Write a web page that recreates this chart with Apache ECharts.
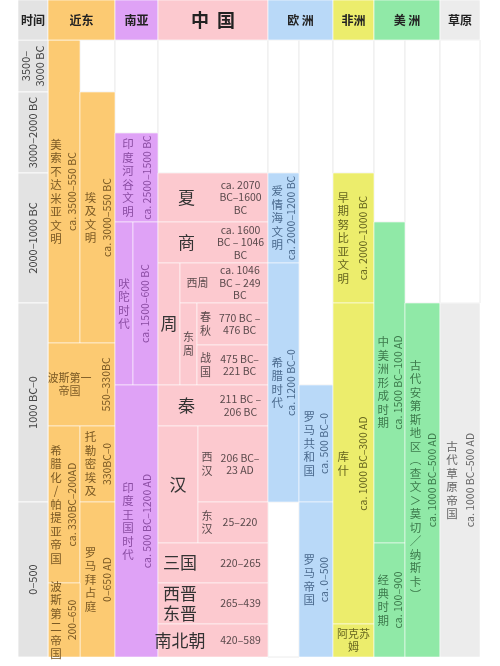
<!DOCTYPE html>
<html>
<head>
<meta charset="utf-8">
<script src="https://cdn.jsdelivr.net/npm/echarts@6/dist/echarts.min.js"></script>
<style>html,body{margin:0;padding:0;background:#fff}#chart{width:500px;height:666px}</style>
</head>
<body>
<div id="chart"></div>
<script>
// 颜色
var colors = {
  t: ['#e3e3e3', '#555'],
  o: ['#fcca72', '#7b5a25'],
  p: ['#dfa2f6', '#8b4da3'],
  c: ['#fcc9cf', '#5a4a4c'],
  b: ['#b9d9f8', '#4b6a8d'],
  y: ['#eced6c', '#676620'],
  g: ['#90e9a7', '#3d7a4c'],
  s: ['#ececec', '#666'],
  w: ['#ffffff', '#333']
};

// 表头 [x0, x1, 文字, 颜色]
var headers = [
  [18, 48, '时间', 't'], [48, 115, '近东', 'o'], [115, 158, '南亚', 'p'],
  [158, 268, '中  国', 'c'], [268, 333, '欧 洲', 'b'], [333, 374, '非洲', 'y'],
  [374, 440, '美 洲', 'g'], [440, 480, '草原', 's']
];
var headerBottom = 40;

// 时间列 [y0, y1, 文字]
var timeRows = [
  [40, 92, '3500–\n3000 BC'], [92, 173, '3000–2000 BC'], [173, 303, '2000–1000 BC'],
  [303, 502, '1000 BC–0'], [502, 657, '0–500']
];

// 单元格 [x0, x1, y0, y1, 颜色, 名称, 年代, 名称位置, 年代位置, 模式]
// 模式 v: 名称竖排+年代旋转; h: 横排
var nearEast = [
  [48, 80, 40, 343, 'o', '美索不达米亚文明', 'ca. 3500–550 BC', .25, .75, 'v'],
  [80, 115, 92, 343, 'o', '埃及文明', 'ca. 3000–550 BC', .3, .78, 'v'],
  [48, 115, 343, 426, 'o', '波斯第一\n帝国', '550–330BC', .32, .86, 'hr'],
  [48, 80, 426, 583, 'o', '希腊化/帕提亚帝国', 'ca. 330BC–200AD', .25, .75, 'v'],
  [80, 115, 426, 502, 'o', '托勒密埃及', '330BC–0', .3, .78, 'v'],
  [80, 115, 502, 657, 'o', '罗马拜占庭', '0–650 AD', .3, .78, 'v'],
  [48, 80, 583, 657, 'o', '波斯第二帝国', '200–650', .25, .75, 'v']
];
var southAsia = [
  [115, 158, 133, 222, 'p', '印度河谷文明', 'ca. 2500–1500 BC', .3, .75, 'v'],
  [115, 133, 222, 385, 'p', '吠陀时代', '', .5, 0, 'v'],
  [133, 158, 222, 385, 'p', '', 'ca. 1500–600 BC', 0, .5, 'v'],
  [115, 158, 385, 657, 'p', '印度王国时代', 'ca. 500 BC–1200 AD', .3, .75, 'v']
];
var china = [
  [158, 268, 173, 222, 'c', '夏', 'ca. 2070\nBC–1600\nBC', .26, .75, 'h'],
  [158, 268, 222, 263, 'c', '商', 'ca. 1600\nBC – 1046\nBC', .26, .75, 'h'],
  [158, 180, 263, 385, 'c', '周', '', .5, 0, 'h'],
  [180, 268, 263, 303, 'c', '西周', 'ca. 1046\nBC – 249\nBC', .2, .68, 'hs'],
  [180, 197, 303, 385, 'c', '东\n周', '', .5, 0, 'hs'],
  [197, 268, 303, 345, 'c', '春\n秋', '770 BC –\n476 BC', .12, .6, 'hs'],
  [197, 268, 345, 385, 'c', '战\n国', '475 BC–\n221 BC', .12, .6, 'hs'],
  [158, 268, 385, 426, 'c', '秦', '211 BC –\n206 BC', .26, .75, 'h'],
  [158, 198, 426, 543, 'c', '汉', '', .5, 0, 'h'],
  [198, 268, 426, 502, 'c', '西\n汉', '206 BC–\n23 AD', .13, .6, 'hs'],
  [198, 268, 502, 543, 'c', '东\n汉', '25–220', .13, .6, 'hs'],
  [158, 268, 543, 583, 'c', '三国', '220–265', .2, .75, 'h'],
  [158, 268, 583, 624, 'c', '西晋\n东晋', '265–439', .2, .75, 'h'],
  [158, 268, 624, 657, 'c', '南北朝', '420–589', .2, .75, 'h']
];
var europe = [
  [268, 299, 173, 263, 'b', '爱情海文明', 'ca. 2000–1200 BC', .3, .75, 'v'],
  [268, 299, 263, 502, 'b', '希腊时代', 'ca. 1200 BC–0', .3, .75, 'v'],
  [299, 333, 385, 502, 'b', '罗马共和国', 'ca. 500 BC–0', .3, .75, 'v'],
  [299, 333, 502, 657, 'b', '罗马帝国', 'ca. 0–500', .3, .75, 'v']
];
var africa = [
  [333, 374, 173, 303, 'y', '早期努比亚文明', 'ca. 2000–1000 BC', .25, .72, 'v'],
  [333, 374, 303, 624, 'y', '库什', 'ca. 1000 BC–300 AD', .25, .72, 'v'],
  [333, 374, 624, 657, 'y', '阿克苏\n姆', '', .5, 0, 'hs']
];
var americas = [
  [374, 405, 222, 543, 'g', '中美洲形成时期', 'ca. 1500 BC–100 AD', .3, .77, 'v'],
  [374, 405, 543, 657, 'g', '经典时期', 'ca. 100–900', .3, .77, 'v'],
  [405, 440, 303, 657, 'g', '古代安第斯地区︵查文＞莫切／纳斯卡︶', 'ca. 1000 BC–500 AD', .3, .78, 'v']
];
var steppe = [
  [440, 480, 303, 657, 's', '古代草原帝国', 'ca. 1000 BC–500 AD', .3, .75, 'v']
];
var blanks = [
  [80, 115, 40, 92], [115, 158, 40, 133], [158, 268, 40, 173], [268, 299, 40, 173],
  [299, 333, 40, 385], [333, 374, 40, 173], [374, 405, 40, 222], [405, 440, 40, 303],
  [440, 480, 40, 303], [268, 299, 502, 657]
];

var cells = [].concat(nearEast, southAsia, china, europe, africa, americas, steppe);

function rect(api, x0, x1, y0, y1, fill, stroke) {
  var p0 = api.coord([x0, y0]), p1 = api.coord([x1, y1]);
  return {type: 'rect', shape: {x: p0[0], y: p0[1], width: p1[0] - p0[0], height: p1[1] - p0[1]},
    style: {fill: fill, stroke: stroke, lineWidth: 1}};
}
function txt(p, text, size, color, rot, bold, lh) {
  return {type: 'text', x: p[0], y: p[1], rotation: rot || 0,
    style: {text: text, fontSize: size, fill: color, align: 'center', verticalAlign: 'middle',
      fontFamily: 'Noto Sans CJK SC', fontWeight: bold ? 'bold' : 'normal', lineHeight: lh || size + 3}};
}

var cellSeries = {
  type: 'custom',
  data: cells.map(function (c) { return [c[0], c[1], c[2], c[3]]; }),
  renderItem: function (params, api) {
    var c = cells[params.dataIndex];
    var col = colors[c[4]];
    var kids = [rect(api, c[0], c[1], c[2], c[3], col[0], 'rgba(255,255,255,0.55)')];
    var ym = (c[2] + c[3]) / 2;
    var w = c[1] - c[0];
    if (c[5]) {
      var np = api.coord([c[0] + w * c[7], ym]);
      if (c[9] == 'v') kids.push(txt(np, c[5].split('').join('\n'), 11.5, col[1], 0, false, 13.5));
      else if (c[9] == 'h') kids.push(txt(np, c[5], 17, '#333', 0, false, 20));
      else kids.push(txt(np, c[5], 11, col[1], 0, false, 13.5));
    }
    if (c[6]) {
      var dp = api.coord([c[0] + w * c[8], ym]);
      if (c[9] == 'v' || c[9] == 'hr') kids.push(txt(dp, c[6], 10.5, col[1], Math.PI / 2));
      else kids.push(txt(dp, c[6], 10.5, col[1], 0, false, 12.5));
    }
    return {type: 'group', children: kids};
  }
};

var blankSeries = {
  type: 'custom',
  data: blanks,
  renderItem: function (params, api) {
    var b = blanks[params.dataIndex];
    return rect(api, b[0], b[1], b[2], b[3], '#fff', '#ececec');
  }
};

var headerSeries = {
  type: 'custom',
  data: headers.map(function (h) { return [h[0], h[1]]; }),
  renderItem: function (params, api) {
    var h = headers[params.dataIndex];
    var col = colors[h[3]];
    var big = h[2] == '中  国';
    return {type: 'group', children: [
      rect(api, h[0], h[1], 0, headerBottom, col[0], 'rgba(255,255,255,0.6)'),
      txt(api.coord([(h[0] + h[1]) / 2, headerBottom / 2]), h[2], big ? 18 : 12, '#222', 0, true)
    ]};
  }
};

var timeSeries = {
  type: 'custom',
  data: timeRows.map(function (r) { return [r[0], r[1]]; }),
  renderItem: function (params, api) {
    var r = timeRows[params.dataIndex];
    return {type: 'group', children: [
      rect(api, 18, 48, r[0], r[1], colors.t[0], 'rgba(255,255,255,0.8)'),
      txt(api.coord([33, (r[0] + r[1]) / 2]), r[2], 11, '#444', Math.PI / 2, false, 14)
    ]};
  }
};

var chart = echarts.init(document.getElementById('chart'));
chart.setOption({
  animation: false,
  grid: {left: 0, right: 0, top: 0, bottom: 0},
  xAxis: {type: 'value', min: 0, max: 500, show: false},
  yAxis: {type: 'value', min: 0, max: 666, inverse: true, show: false},
  series: [blankSeries, cellSeries, timeSeries, headerSeries]
});
</script>
</body>
</html>
